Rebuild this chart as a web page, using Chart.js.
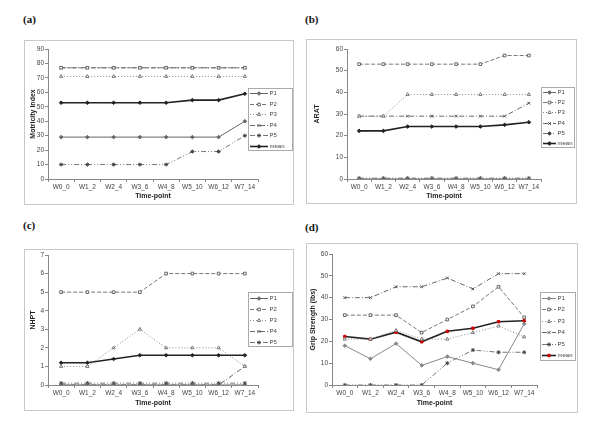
<!DOCTYPE html>
<html>
<head>
<meta charset="utf-8">
<script src="https://cdn.jsdelivr.net/npm/chart.js@4.4.0/dist/chart.umd.min.js"></script>
<style>
  body { margin: 0; background: #fff; width: 600px; height: 427px; position: relative; overflow: hidden; }
  .tag { position: absolute; font: bold 11px "Liberation Serif", "Times New Roman", serif; color: #111; }
  .box { position: absolute; border: 1px solid #c8c8c8; box-sizing: border-box; background: #fff; }
</style>
</head>
<body>
<div class="tag" style="left:23px;top:13px">(a)</div>
<div class="tag" style="left:305px;top:13px">(b)</div>
<div class="tag" style="left:23px;top:219px">(c)</div>
<div class="tag" style="left:305px;top:221px">(d)</div>

<div class="box" style="left:24px;top:40px;width:270px;height:165px"><canvas id="chartA"></canvas></div>
<div class="box" style="left:306px;top:39px;width:271px;height:165px"><canvas id="chartB"></canvas></div>
<div class="box" style="left:24px;top:249px;width:270px;height:162px"><canvas id="chartC"></canvas></div>
<div class="box" style="left:306px;top:243px;width:272px;height:170px"><canvas id="chartD"></canvas></div>

<script>
// time points shared by all four panels
const timePoints = ['W0_0', 'W1_2', 'W2_4', 'W3_6', 'W4_8', 'W5_10', 'W6_12', 'W7_14'];

// (a) Motricity Index
const miP1 = [29, 29, 29, 29, 29, 29, 29, 40];
const miP2 = [77, 77, 77, 77, 77, 77, 77, 77];
const miP3 = [71, 71, 71, 71, 71, 71, 71, 71];
const miP4 = [77, 77, 77, 77, 77, 77, 77, 77];
const miP5 = [10, 10, 10, 10, 10, 19, 19, 30];
const miMean = [52.8, 52.8, 52.8, 52.8, 52.8, 54.6, 54.6, 59];

// (b) ARAT
const araP1 = [0, 0, 0, 0, 0, 0, 0, 0];
const araP2 = [53, 53, 53, 53, 53, 53, 57, 57];
const araP3 = [29, 29, 39, 39, 39, 39, 39, 39];
const araP4 = [29, 29, 29, 29, 29, 29, 29, 35];
const araP5 = [0.4, 0.4, 0.4, 0.4, 0.4, 0.4, 0.4, 0.4];
const araMean = [22.2, 22.2, 24.2, 24.2, 24.2, 24.2, 25, 26.2];

// (c) NHPT
const nhP1 = [0, 0, 0, 0, 0, 0, 0, 0];
const nhP2 = [5, 5, 5, 5, 6, 6, 6, 6];
const nhP3 = [1, 1, 2, 3, 2, 2, 2, 1];
const nhP4 = [0, 0, 0, 0, 0, 0, 0, 1];
const nhP5 = [0.1, 0.1, 0.1, 0.1, 0.1, 0.1, 0.1, 0.1];
const nhMean = [1.2, 1.2, 1.4, 1.6, 1.6, 1.6, 1.6, 1.6];

// (d) Grip Strength (lbs)
const gsP1 = [18, 12, 19, 9, 13, 10, 7, 28];
const gsP2 = [32, 32, 32, 24, 30, 36, 45, 31];
const gsP3 = [21, 21, 25, 21, 21, 24, 27, 22];
const gsP4 = [40, 40, 45, 45, 49, 44, 51, 51];
const gsP5 = [0, 0, 0, 0, 10, 16, 15, 15];
const gsMean = [22.2, 21, 24.2, 19.8, 24.6, 26, 29, 29.4];

// line / marker look of each series (Excel-like greys)
const styles = {
  P1: { borderColor: '#666', borderWidth: 1, borderDash: [], pointStyle: 'rectRot', pointBackgroundColor: '#666', pointBorderColor: '#666', pointRadius: 1.8 },
  P2: { borderColor: '#777', borderWidth: 1, borderDash: [4, 2], pointStyle: 'rect', pointBackgroundColor: '#fff', pointBorderColor: '#666', pointRadius: 1.9 },
  P3: { borderColor: '#888', borderWidth: 1, borderDash: [1, 2], pointStyle: 'triangle', pointBackgroundColor: '#fff', pointBorderColor: '#777', pointRadius: 1.9 },
  P4: { borderColor: '#666', borderWidth: 1, borderDash: [5, 2, 1, 2], pointStyle: 'crossRot', pointBackgroundColor: '#555', pointBorderColor: '#555', pointRadius: 2 },
  P5: { borderColor: '#777', borderWidth: 1, borderDash: [5, 2, 1, 2, 1, 2], pointStyle: 'star', pointBackgroundColor: '#555', pointBorderColor: '#444', pointRadius: 2 },
  mean: { borderColor: '#222', borderWidth: 1.6, borderDash: [], pointStyle: 'rectRot', pointBackgroundColor: '#222', pointBorderColor: '#222', pointRadius: 1.8 }
};

// legend with a frame, line sample and marker, as in Excel
const boxLegend = {
  id: 'boxLegend',
  afterDraw(chart, args, o) {
    if (!o || !o.w) return;
    const ctx = chart.ctx;
    const items = chart.data.datasets.filter(d => !d.hideInLegend);
    const row = o.h / items.length;
    ctx.save();
    ctx.fillStyle = '#fff';
    ctx.fillRect(o.x, o.y, o.w, o.h);
    ctx.strokeStyle = '#aaa';
    ctx.lineWidth = 1;
    ctx.strokeRect(o.x + 0.5, o.y + 0.5, o.w - 1, o.h - 1);
    items.forEach((d, i) => {
      const cy = Math.round(o.y + row * (i + 0.5)) + 0.5;
      ctx.strokeStyle = d.borderColor;
      ctx.lineWidth = d.borderWidth;
      ctx.setLineDash(d.borderDash || []);
      ctx.beginPath();
      ctx.moveTo(o.x + 2, cy);
      ctx.lineTo(o.x + o.sample, cy);
      ctx.stroke();
      ctx.setLineDash([]);
      ctx.fillStyle = d.pointBackgroundColor;
      ctx.strokeStyle = d.pointBorderColor;
      ctx.lineWidth = 1;
      Chart.helpers.drawPoint(ctx, { pointStyle: d.pointStyle, radius: d.pointRadius, rotation: 0, borderWidth: 1 }, o.x + 2 + (o.sample - 2) / 2, cy);
      ctx.fillStyle = '#444';
      ctx.font = '6px "Liberation Sans", Arial, sans-serif';
      ctx.textBaseline = 'middle';
      ctx.textAlign = 'left';
      ctx.fillText(d.label, o.x + o.sample + 1.5, cy);
    });
    ctx.restore();
  }
};

function makePanel(id, p) {
  const datasets = p.series.map(([label, data, key, extra]) => Object.assign({
    label: label,
    data: data,
    tension: 0,
    fill: false,
    pointBorderWidth: 1
  }, styles[key], extra || {}));

  return new Chart(document.getElementById(id), {
    type: 'line',
    data: { labels: timePoints, datasets: datasets },
    plugins: [boxLegend],
    options: {
      responsive: true,
      maintainAspectRatio: false,
      animation: false,
      layout: { padding: { top: p.padTop, right: p.padRight, left: 0, bottom: 0 } },
      plugins: {
        legend: { display: false },
        tooltip: { enabled: false },
        boxLegend: p.legend
      },
      scales: {
        x: {
          offset: true,
          afterFit: s => { s.height = p.xHeight; },
          grid: { offset: true, drawOnChartArea: false, color: '#888', tickLength: 3 },
          border: { color: '#888' },
          ticks: { color: '#444', padding: 1, maxRotation: 0, autoSkip: false, font: { size: 6.5, family: '"Liberation Sans", Arial, sans-serif' } },
          title: { display: true, text: 'Time-point', color: '#222', padding: { top: 0, bottom: p.xTitlePad }, font: { size: 7, weight: 'bold', family: '"Liberation Sans", Arial, sans-serif' } }
        },
        y: {
          min: 0,
          max: p.yMax,
          afterFit: s => { s.width = p.yWidth; },
          grid: { drawOnChartArea: false, color: '#888', tickLength: 3 },
          border: { color: '#888' },
          ticks: { stepSize: p.yStep, color: '#444', padding: 1, font: { size: 6.5, family: '"Liberation Sans", Arial, sans-serif' } },
          title: { display: true, text: p.yTitle, color: '#222', padding: { top: p.yTitlePad, bottom: 0 }, font: { size: 7, weight: 'bold', family: '"Liberation Sans", Arial, sans-serif' } }
        }
      }
    }
  });
}

makePanel('chartA', {
  yTitle: 'Motricity Index', yMax: 90, yStep: 10,
  padTop: 8, padRight: 35, yWidth: 23, xHeight: 25, yTitlePad: 4, xTitlePad: 4,
  legend: { x: 223, y: 47, w: 45, h: 63, sample: 20 },
  series: [['P1', miP1, 'P1'], ['P2', miP2, 'P2'], ['P3', miP3, 'P3'], ['P4', miP4, 'P4'], ['P5', miP5, 'P5'], ['mean', miMean, 'mean']]
});

makePanel('chartB', {
  yTitle: 'ARAT', yMax: 60, yStep: 10,
  padTop: 9, padRight: 35, yWidth: 40, xHeight: 24, yTitlePad: 6, xTitlePad: 3,
  legend: { x: 234, y: 47, w: 34, h: 61, sample: 15 },
  series: [['P1', araP1, 'P1'], ['P2', araP2, 'P2'], ['P3', araP3, 'P3'], ['P4', araP4, 'P4'], ['P5', araP5, 'P5'], ['mean', araMean, 'mean']]
});

makePanel('chartC', {
  yTitle: 'NHPT', yMax: 7, yStep: 1,
  padTop: 4, padRight: 35, yWidth: 23, xHeight: 25, yTitlePad: 4, xTitlePad: 3,
  legend: { x: 223, y: 42, w: 45, h: 55, sample: 20 },
  series: [['P1', nhP1, 'P1'], ['P2', nhP2, 'P2'], ['P3', nhP3, 'P3'], ['P4', nhP4, 'P4'], ['P5', nhP5, 'P5'],
           ['mean', nhMean, 'mean', { hideInLegend: true }]]
});

makePanel('chartD', {
  yTitle: 'Grip Strength (lbs)', yMax: 60, yStep: 10,
  padTop: 10, padRight: 40, yWidth: 25, xHeight: 27, yTitlePad: 2, xTitlePad: 5,
  legend: { x: 233, y: 48, w: 36, h: 69, sample: 16 },
  series: [['P1', gsP1, 'P1', { borderColor: '#888', pointBackgroundColor: '#888', pointBorderColor: '#888' }],
           ['P2', gsP2, 'P2'], ['P3', gsP3, 'P3'], ['P4', gsP4, 'P4'], ['P5', gsP5, 'P5'],
           ['mean', gsMean, 'mean', { pointBackgroundColor: '#d00', pointBorderColor: '#c00', pointStyle: 'rect', pointRadius: 1.7 }]]
});
</script>
</body>
</html>
